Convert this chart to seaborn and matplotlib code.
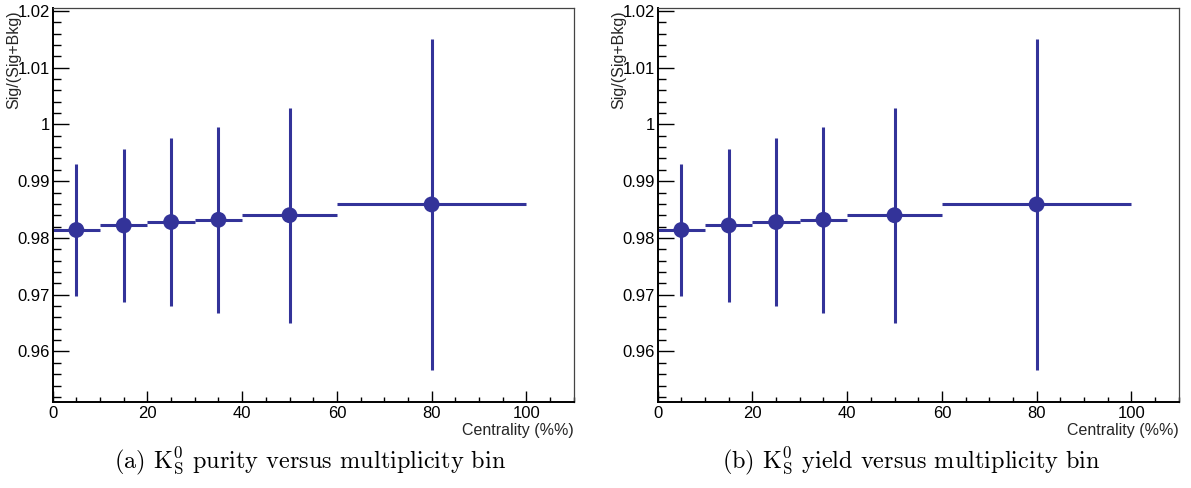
import matplotlib
matplotlib.use("Agg")
import matplotlib.pyplot as plt
import seaborn as sns
import numpy as np
import pandas as pd
from matplotlib.ticker import MultipleLocator

# ---- data ----
bin_low = [0, 10, 20, 30, 40, 60]
bin_high = [10, 20, 30, 40, 60, 100]
centers = [5, 15, 25, 35, 50, 80]
purity = [0.9814, 0.9822, 0.9828, 0.9832, 0.9840, 0.9859]
purity_err = [0.0117, 0.0134, 0.0148, 0.0164, 0.0189, 0.0292]
yield_vals = [0.9814, 0.9822, 0.9828, 0.9832, 0.9840, 0.9859]
yield_err = [0.0117, 0.0134, 0.0148, 0.0164, 0.0189, 0.0292]
captions = [r"(a) $\mathrm{K}^0_\mathrm{S}$ purity versus multiplicity bin",
            r"(b) $\mathrm{K}^0_\mathrm{S}$ yield versus multiplicity bin"]
xlabel = "Centrality (%%)"
ylabel = "Sig/(Sig+Bkg)"

sns.set_theme(style="white")
plt.rcParams['font.family'] = ['Liberation Sans', 'DejaVu Sans']
plt.rcParams['mathtext.fontset'] = 'cm'

color = "#333399"
W, H = 1191, 488
fig = plt.figure(figsize=(W / 100, H / 100), dpi=100)

ax_left_px = [52.7, 657.7]
ax_w_px = 521.0
ax_top_px, ax_bot_px = 8.0, 402.0
cap_x = [310, 911]

for i, (vals, errs) in enumerate([(purity, purity_err), (yield_vals, yield_err)]):
    ax = fig.add_axes([ax_left_px[i] / W, 1 - ax_bot_px / H,
                       ax_w_px / W, (ax_bot_px - ax_top_px) / H])
    df = pd.DataFrame({"x": centers, "y": vals, "err": errs,
                       "lo": bin_low, "hi": bin_high})
    xerr = [df["x"] - df["lo"], df["hi"] - df["x"]]
    ax.errorbar(df["x"], df["y"], yerr=df["err"], xerr=xerr, fmt="none",
                ecolor=color, elinewidth=2.2, capsize=0, zorder=2)
    sns.scatterplot(data=df, x="x", y="y", ax=ax, color=color, s=130,
                    edgecolor="none", zorder=3, legend=False)
    ax.set_xlim(0, 110)
    ax.set_ylim(0.9511, 1.0205)
    ax.xaxis.set_major_locator(MultipleLocator(20))
    ax.xaxis.set_minor_locator(MultipleLocator(5))
    ax.yaxis.set_major_locator(MultipleLocator(0.01))
    ax.yaxis.set_minor_locator(MultipleLocator(0.002))
    ax.yaxis.set_major_formatter(matplotlib.ticker.FuncFormatter(
        lambda v, p: ("%g" % round(v, 4))))
    ax.tick_params(axis="both", which="both", direction="in", colors="black",
                   labelsize=12, top=False, right=False, left=True, bottom=True)
    ax.tick_params(axis="y", which="major", length=11.5, width=1.0, pad=2)
    ax.tick_params(axis="y", which="minor", length=5.8, width=1.0)
    ax.tick_params(axis="x", which="major", length=7.7, width=1.0, pad=3)
    ax.tick_params(axis="x", which="minor", length=3.8, width=1.0)
    for s in ["left", "bottom"]:
        ax.spines[s].set_color("black")
        ax.spines[s].set_linewidth(1.4)
    for s in ["top", "right"]:
        ax.spines[s].set_color("#444444")
        ax.spines[s].set_linewidth(0.9)
    ax.set_xlabel(xlabel, fontsize=11.5, loc="right", labelpad=1)
    ax.set_ylabel(ylabel, fontsize=11.5, loc="top")
    ax.yaxis.set_label_coords(-0.06, 0.995)
    fig.text(cap_x[i] / W, 1 - 461 / H, captions[i], ha="center", va="center",
             fontsize=17.5, color="black", family="cmr10")

fig.savefig("out.png", dpi=100)
